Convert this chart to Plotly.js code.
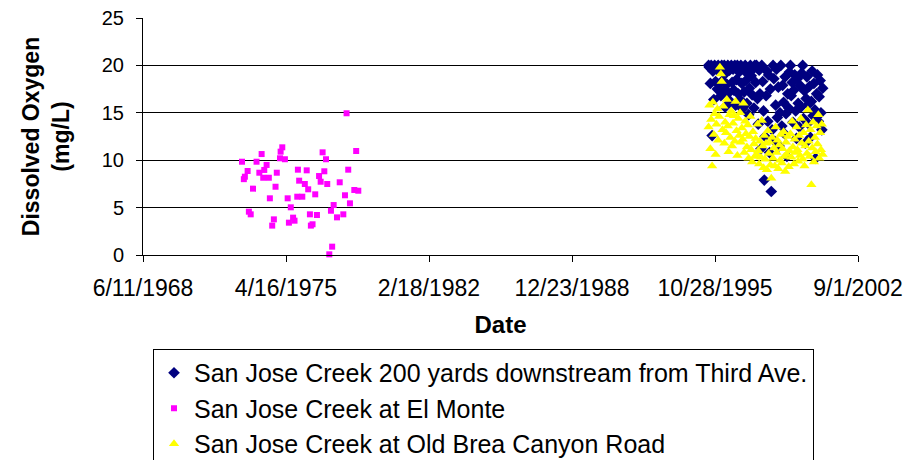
<!DOCTYPE html>
<html>
<head>
<meta charset="utf-8">
<script src="https://cdn.plot.ly/plotly-3.0.1.min.js"></script>
<style>html,body{margin:0;padding:0;background:#fff;}#chart{width:908px;height:460px;}</style>
</head>
<body>
<div id="chart"></div>
<script>
// ---- Data ----
const seriesNames = [
  "San Jose Creek 200 yards downstream from Third Ave.",
  "San Jose Creek at El Monte",
  "San Jose Creek at Old Brea Canyon Road"
];

const tickDates = ["1968-06-11","1975-04-16","1982-02-18","1988-12-23","1995-10-28","2002-09-01"];
const tickLabels = ["6/11/1968","4/16/1975","2/18/1982","12/23/1988","10/28/1995","9/1/2002"];

const elMonteDates = [
  "1978-03-10","1975-02-10","1975-01-12","1974-02-14","1977-01-15","1978-08-25",
  "1973-03-08","1973-11-17","1975-01-01","1975-03-28","1977-03-15","1974-05-12",
  "1973-06-14","1974-01-05","1974-04-01","1974-11-06","1975-11-10","1976-04-12",
  "1977-02-14","1978-04-08","1973-04-27","1973-04-09","1974-03-14","1974-06-20",
  "1976-11-14","1975-12-02","1976-03-10","1976-12-12","1977-04-06","1977-11-10",
  "1974-10-15","1973-09-16","1976-05-08","1978-07-23","1978-10-01","1976-09-08",
  "1978-02-10","1974-07-08","1975-05-15","1975-10-30","1976-01-26","1978-05-08",
  "1975-07-09","1977-07-27","1973-07-06","1973-08-07","1977-06-10","1978-01-12",
  "1977-09-24","1974-09-16","1975-08-18","1975-09-12","1975-06-06","1976-06-07",
  "1976-10-08","1976-07-23","1976-06-24","1974-08-18","1977-07-01","1977-05-12"
];
const elMonteDO = [
  14.95,11.36,10.9,10.65,10.83,10.97,
  9.84,9.84,10.2,10.1,10.1,9.5,
  8.86,8.68,8.97,8.68,9.0,8.93,
  8.83,9.0,8.26,8.0,8.15,8.15,
  8.33,7.84,7.49,7.73,7.49,7.67,
  7.2,7.0,6.93,6.86,6.78,6.4,
  6.3,5.98,5.98,6.15,6.15,5.45,
  5.03,5.27,4.57,4.29,4.67,4.29,
  3.97,3.76,3.94,3.62,3.41,4.29,
  4.22,3.24,3.1,3.1,0.88,0.07
];

// Sampling dates shared by the two upstream stations
const upstreamDates = [
  "1995-07-08","1995-07-22","1995-08-08","1995-08-22","1995-09-08","1995-09-22",
  "1995-10-08","1995-10-22","1995-11-08","1995-11-22","1995-12-08","1995-12-22",
  "1996-01-08","1996-01-22","1996-02-08","1996-02-22","1996-03-08","1996-03-22",
  "1996-04-08","1996-04-22","1996-05-08","1996-05-22","1996-06-08","1996-06-22",
  "1996-07-08","1996-07-22","1996-08-08","1996-08-22","1996-09-08","1996-09-22",
  "1996-10-08","1996-10-22","1996-11-08","1996-11-22","1996-12-08","1996-12-22",
  "1997-01-08","1997-01-22","1997-02-08","1997-02-22","1997-03-08","1997-03-22",
  "1997-04-08","1997-04-22","1997-05-08","1997-05-22","1997-06-08","1997-06-22",
  "1997-07-08","1997-07-22","1997-08-08","1997-08-22","1997-09-08","1997-09-22",
  "1997-10-08","1997-10-22","1997-11-08","1997-11-22","1997-12-08","1997-12-22",
  "1998-01-08","1998-01-22","1998-02-08","1998-02-22","1998-03-08","1998-03-22",
  "1998-04-08","1998-04-22","1998-05-08","1998-05-22","1998-06-08","1998-06-22",
  "1998-07-08","1998-07-22","1998-08-08","1998-08-22","1998-09-08","1998-09-22",
  "1998-10-08","1998-10-22","1998-11-08","1998-11-22","1998-12-08","1998-12-22",
  "1999-01-08","1999-01-22","1999-02-08","1999-02-22","1999-03-08","1999-03-22",
  "1999-04-08","1999-04-22","1999-05-08","1999-05-22","1999-06-08","1999-06-22",
  "1999-07-08","1999-07-22","1999-08-08","1999-08-22","1999-09-08","1999-09-22",
  "1999-10-08","1999-10-22","1999-11-08","1999-11-22","1999-12-08","1999-12-22",
  "2000-01-08","2000-01-22","2000-02-08","2000-02-22","2000-03-08","2000-03-22",
  "2000-04-08","2000-04-22","2000-05-08","2000-05-22","2000-06-08","2000-06-22",
  "2000-07-08","2000-07-22","2000-08-08","2000-08-22","2000-09-08","2000-09-22",
  "2000-10-08","2000-10-22","2000-11-08","2000-11-22","2000-12-08","2000-12-22"
];
const thirdAveDO = [
  20.0,19.8,18.1,20.0,12.6,19.4,16.4,20.0,18.3,19.6,17.5,20.0,
  18.0,19.7,16.8,20.0,18.4,17.3,20.0,15.6,19.2,18.0,20.0,17.1,
  19.5,16.2,20.0,18.2,19.6,17.4,20.0,15.8,18.5,20.0,17.0,19.3,
  16.4,20.0,18.1,15.4,19.7,17.2,20.0,18.4,16.0,19.1,14.8,17.6,
  20.0,18.9,16.9,19.6,15.5,20.0,18.2,20.0,16.5,13.8,19.5,17.0,
  11.2,20.0,18.3,15.2,7.9,12.5,16.8,19.4,14.1,19.0,10.8,17.5,
  6.7,13.2,20.0,18.6,12.0,15.8,19.6,14.5,17.7,11.5,15.0,20.0,
  13.6,17.9,16.1,12.8,18.8,14.9,10.4,17.0,15.5,19.3,20.0,16.8,
  18.2,14.0,17.4,19.0,15.2,12.3,18.6,16.0,13.5,17.9,15.6,19.2,
  20.0,14.4,17.3,11.8,16.5,18.8,13.9,15.9,17.8,12.4,16.2,19.4,
  14.7,18.1,15.3,10.2,17.0,19.0,14.1,16.7,18.4,15.0,13.2,17.6
];
const oldBreaDO = [
  13.5,15.8,11.2,14.3,9.4,16.1,12.7,14.9,10.6,13.8,15.4,12.1,
  14.6,19.8,19.1,18.3,13.2,15.7,11.8,14.0,12.9,16.4,13.6,10.9,
  14.8,12.4,15.2,11.5,13.9,14.7,12.0,16.2,13.1,10.5,14.4,12.6,
  15.0,11.9,13.4,12.2,16.0,10.8,14.1,12.8,11.4,13.7,10.2,12.5,
  14.6,11.1,9.8,13.0,11.7,10.4,12.3,10.6,13.8,11.0,9.6,12.0,
  10.3,14.2,11.5,9.2,12.6,10.1,11.8,9.0,13.1,10.7,11.9,9.5,
  8.1,12.4,10.2,11.3,9.4,13.5,10.8,12.1,9.1,11.6,10.0,12.7,
  9.7,11.2,13.0,10.4,8.8,11.9,10.6,12.5,9.3,11.0,12.8,10.3,
  14.1,11.4,9.6,12.2,10.8,13.5,11.1,9.9,12.6,10.5,14.4,11.8,
  10.1,12.9,9.4,11.5,13.7,10.7,15.3,12.0,10.4,13.2,7.4,11.3,
  14.0,9.8,12.4,10.9,13.6,11.7,14.8,10.2,12.9,11.1,13.8,10.6
];

const FONT = "Liberation Sans, Arial, sans-serif";

const traces = [
  {x: upstreamDates, y: thirdAveDO, name: seriesNames[0], type: "scatter", mode: "markers",
   marker: {symbol: "diamond", size: 9, color: "#000080"}, cliponaxis: false},
  {x: elMonteDates, y: elMonteDO, name: seriesNames[1], type: "scatter", mode: "markers",
   marker: {symbol: "square", size: 6, color: "#FF00FF"}, cliponaxis: false},
  {x: upstreamDates, y: oldBreaDO, name: seriesNames[2], type: "scatter", mode: "markers",
   marker: {symbol: "triangle-up", size: 9, color: "#FFFF00"}, cliponaxis: false}
];

const layout = {
  width: 908, height: 460,
  margin: {l: 143, r: 50, t: 18, b: 205, autoexpand: false},
  paper_bgcolor: "#fff", plot_bgcolor: "#fff",
  font: {family: FONT, color: "#000", size: 21},
  showlegend: true,
  xaxis: {
    type: "date", automargin: false,
    range: [tickDates[0], tickDates[tickDates.length - 1]],
    tickmode: "array", tickvals: tickDates, ticktext: tickLabels,
    ticks: "outside", ticklen: 6, tickcolor: "#000", tickwidth: 1,
    showline: true, linecolor: "#000", linewidth: 1,
    showgrid: false, zeroline: false,
    tickfont: {family: FONT, size: 23, color: "#000"},
    ticklabelstandoff: 6,
    title: {text: "<b>Date</b>", font: {family: FONT, size: 24, color: "#000"}, standoff: 16}
  },
  yaxis: {
    automargin: false,
    range: [0, 25], tickmode: "linear", tick0: 0, dtick: 5,
    ticks: "outside", ticklen: 6, tickcolor: "#000", tickwidth: 1,
    showline: true, linecolor: "#000", linewidth: 1,
    showgrid: true, gridcolor: "#000", gridwidth: 1, zeroline: false,
    tickfont: {family: FONT, size: 20, color: "#000"},
    ticklabelstandoff: 8,
    title: {text: "<b>Dissolved Oxygen<br>(mg/L)</b>", font: {family: FONT, size: 23, color: "#000"}, standoff: 25}
  },
  legend: {
    x: 0.014, xanchor: "left", y: -0.3966, yanchor: "top",
    bordercolor: "#000", borderwidth: 1, bgcolor: "#fff",
    font: {family: FONT, size: 25, color: "#000"},
    traceorder: "normal"
  }
};

Plotly.newPlot("chart", traces, layout, {displayModeBar: false, staticPlot: true});
</script>
</body>
</html>
